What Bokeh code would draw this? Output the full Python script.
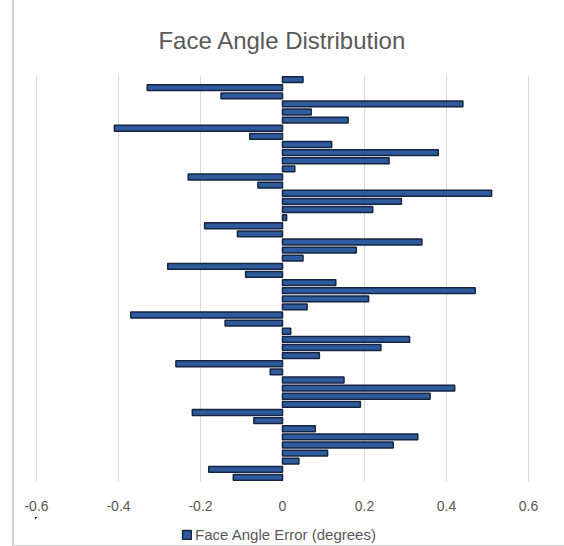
from bokeh.plotting import figure
from bokeh.layouts import column
from bokeh.models import Range1d, FixedTicker, CustomJSTickFormatter, Legend, LegendItem, ColumnDataSource
from bokeh.embed import file_html
from bokeh.resources import INLINE

# Data (top to bottom)
shot = list(range(1, 51))
face_angle_error = [
    0.05, -0.33, -0.15, 0.44, 0.07, 0.16, -0.41, -0.08, 0.12, 0.38,
    0.26, 0.03, -0.23, -0.06, 0.51, 0.29, 0.22, 0.01, -0.19, -0.11,
    0.34, 0.18, 0.05, -0.28, -0.09, 0.13, 0.47, 0.21, 0.06, -0.37,
    -0.14, 0.02, 0.31, 0.24, 0.09, -0.26, -0.03, 0.15, 0.42, 0.36,
    0.19, -0.22, -0.07, 0.08, 0.33, 0.27, 0.11, 0.04, -0.18, -0.12,
]
x_ticks = [-0.6, -0.4, -0.2, 0, 0.2, 0.4, 0.6]
series_name = "Face Angle Error (degrees)"
chart_title = "Face Angle Distribution"

FONT = "Liberation Sans"
TXT = "#595959"
BAR_FILL = "#2E5A9E"
BAR_LINE = "#17243F"

src = ColumnDataSource(dict(shot=shot, err=face_angle_error))

p = figure(
    width=550, height=517,
    x_range=Range1d(-0.6025, 0.6025),
    y_range=Range1d(50.5, 0.5),
    output_backend="svg", toolbar_location=None,
    min_border_left=21, min_border_right=35,
    min_border_top=75, min_border_bottom=36,
    title=chart_title,
)

p.title.align = "center"
p.title.text_font = FONT
p.title.text_font_size = "24px"
p.title.text_font_style = "normal"
p.title.text_color = TXT
p.title.standoff = 43

r = p.hbar(y="shot", right="err", left=0, height=0.72, source=src,
           fill_color=BAR_FILL, line_color=BAR_LINE, line_width=1.5)

p.outline_line_color = None
p.ygrid.visible = False
p.yaxis.visible = False
p.xgrid.grid_line_color = "#d9d9d9"
p.xgrid.grid_line_width = 1

xa = p.xaxis[0]
xa.ticker = FixedTicker(ticks=x_ticks)
xa.formatter = CustomJSTickFormatter(code="return Math.abs(tick) < 1e-9 ? '0' : tick.toFixed(1);")
xa.axis_line_color = None
xa.major_tick_line_color = None
xa.minor_tick_line_color = None
xa.major_tick_out = 0
xa.major_tick_in = 0
xa.major_label_standoff = 19
xa.major_label_text_font = FONT
xa.major_label_text_font_size = "14px"
xa.major_label_text_color = TXT

# legend strip (same series, bars outside the visible ranges so only the legend shows)
p2 = figure(width=550, height=28, x_range=Range1d(10, 11), y_range=Range1d(-10, -9),
            output_backend="svg", toolbar_location=None,
            min_border_left=0, min_border_right=0, min_border_top=0, min_border_bottom=0)
p2.axis.visible = False
p2.grid.visible = False
p2.outline_line_color = None
r2 = p2.hbar(y="shot", right="err", left=0, height=0.72, source=src,
             fill_color=BAR_FILL, line_color=BAR_LINE, line_width=1.5)
legend = Legend(items=[LegendItem(label=series_name, renderers=[r2])],
                orientation="horizontal", location=(146, 2),
                border_line_color=None, background_fill_alpha=0,
                label_text_font=FONT, label_text_font_size="15px",
                label_text_color=TXT, glyph_width=11, glyph_height=11,
                label_standoff=3, padding=0, margin=0)
p2.add_layout(legend)

layout = column(p, p2, spacing=0)
layout.styles = {"margin-left": "12px", "border-left": "2px solid #d0d0d0",
                 "border-bottom": "1px solid #d0d0d0"}
open("out.html", "w").write(file_html(layout, INLINE))
